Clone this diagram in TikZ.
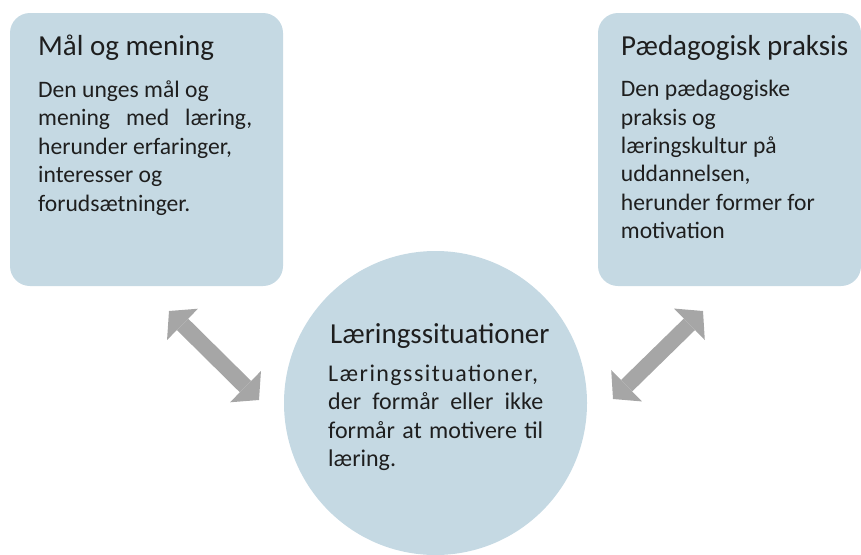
\documentclass[tikz,border=0pt]{standalone}
\usepackage{fontspec}
\setmainfont{Carlito}
\usetikzlibrary{arrows.meta,shapes.geometric}
\definecolor{boxfill}{RGB}{197,217,227}
\definecolor{arrowgray}{RGB}{166,166,166}
\definecolor{txt}{RGB}{30,30,30}
\begin{document}
\begin{tikzpicture}[x=1pt,y=-1pt,
  panel/.style={draw=none, fill=boxfill, rounded corners=20pt, inner sep=0pt, rectangle},
  hub/.style={draw=none, fill=boxfill, ellipse, inner sep=0pt},
  ttl/.style={anchor=base west, inner sep=0pt, text=txt, font=\fontsize{29}{34}\selectfont},
  bodytxt/.style={anchor=base west, inner sep=0pt, text=txt, font=\fontsize{23.6}{28}\selectfont},
  ctrtxt/.style={anchor=base west, inner sep=0pt, text=txt, font=\fontsize{24}{29}\selectfont},
  dblarrow/.style={draw=arrowgray, line width=16pt,
    {Triangle[width=44pt,length=19pt,line width=0pt]}-{Triangle[width=44pt,length=19pt,line width=0pt]}}
]
\useasboundingbox (0,0) rectangle (861,554);

% shapes
\node[panel, minimum width=273pt, minimum height=273pt] (mal) at (146.5,149.5) {};
\node[panel, minimum width=263pt, minimum height=273pt] (ped) at (729.5,149.5) {};
\node[hub, minimum width=303pt, minimum height=304pt] (laer) at (435.5,403) {};

% connectors
\coordinate (la1) at (169,311);
\coordinate (la2) at (259,400);
\coordinate (ra1) at (613,399);
\coordinate (ra2) at (703,311);
\draw[dblarrow] (la1) -- (la2);
\draw[dblarrow] (ra1) -- (ra2);

% left box text
\node[ttl] (mt) at (38,55) {Mål og mening};
\node[bodytxt] (m1) at (38,97) {Den unges mål og};
\node[bodytxt] (m2) at (38,125.5) {\makebox[214pt][s]{mening med læring,}};
\node[bodytxt] (m3) at (38,154) {herunder erfaringer,};
\node[bodytxt] (m4) at (38,182.5) {interesser og};
\node[bodytxt] (m5) at (38,211) {forudsætninger.};

% right box text
\node[ttl] (pt) at (621,55) {Pædagogisk praksis};
\node[bodytxt] (p1) at (620.7,96.7) {Den pædagogiske};
\node[bodytxt] (p2) at (620.7,125) {praksis og};
\node[bodytxt] (p3) at (620.7,153.3) {læringskultur på};
\node[bodytxt] (p4) at (620.7,181.6) {uddannelsen,};
\node[bodytxt] (p5) at (620.7,210) {herunder former for};
\node[bodytxt] (p6) at (620.7,238.3) {motivation};

% center text
\node[ttl] (lt) at (330,343) {Læringssituationer};
\node[ctrtxt] (l1) at (328,381) {\addfontfeature{LetterSpace=6}Læringssituationer,};
\node[ctrtxt] (l2) at (328,409.5) {\makebox[215pt][s]{der formår eller ikke}};
\node[ctrtxt] (l3) at (328,438) {\makebox[215pt][s]{formår at motivere til}};
\node[ctrtxt] (l4) at (328,466.5) {læring.};
\end{tikzpicture}
\end{document}
